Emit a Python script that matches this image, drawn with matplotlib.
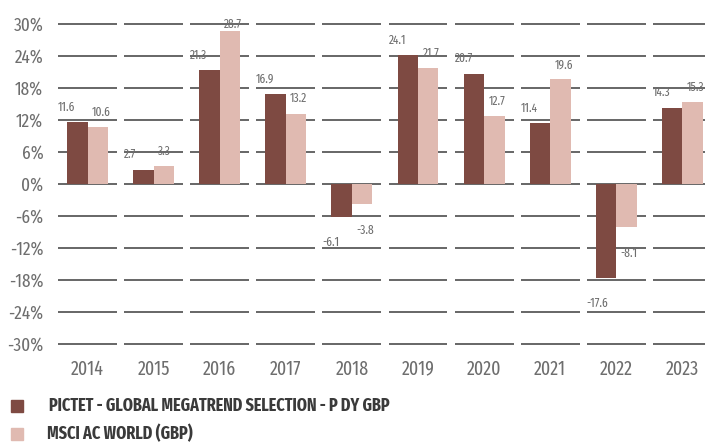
import matplotlib
matplotlib.use("Agg")
import matplotlib.pyplot as plt
from matplotlib.patches import Rectangle

years = ["2014", "2015", "2016", "2017", "2018", "2019", "2020", "2021", "2022", "2023"]
pictet = [11.6, 2.7, 21.3, 16.9, -6.1, 24.1, 20.7, 11.4, -17.6, 14.3]
msci = [10.6, 3.3, 28.7, 13.2, -3.8, 21.7, 12.7, 19.6, -8.1, 15.3]
yticks = [-30, -24, -18, -12, -6, 0, 6, 12, 18, 24, 30]
series_names = ["PICTET - GLOBAL MEGATREND SELECTION - P DY GBP", "MSCI AC WORLD (GBP)"]

c_pictet = "#7e4a42"
c_msci = "#e0bab1"
grid_c = "#5a5a5a"
txt_c = "#6e6e6e"

plt.rcParams['font.family'] = ['Fira Sans Extra Condensed', 'DejaVu Sans']

W, H = 705, 446
fig = plt.figure(figsize=(W/100, H/100), dpi=100)
ax_left = 54.45 / W
ax_w = 661.0 / W
ax_bottom = (H - 349.3) / H
ax_h = (349.3 - 18.67) / H
ax = fig.add_axes([ax_left, ax_bottom, ax_w, ax_h])
ax.set_xlim(-0.5, 9.5)
ax.set_ylim(-31, 31)
for s in ax.spines.values():
    s.set_visible(False)

# broken gridlines per category
for i in range(len(years)):
    for y in yticks:
        ax.plot([i - 0.446, i + 0.446], [y, y], color=grid_c, lw=1.3, zorder=1,
                solid_capstyle='butt', clip_on=False)

bw = 0.31
xs = list(range(len(years)))
ax.bar([x - bw/2 for x in xs], pictet, width=bw, color=c_pictet, zorder=2)
ax.bar([x + bw/2 for x in xs], msci, width=bw, color=c_msci, zorder=2)

px_x = 1 / 66.1
px_y = 62 / 330.63
for i in xs:
    for val, left, off in ((pictet[i], i - bw, -9), (msci[i], i, 4.5)):
        if val >= 0:
            ly = min(val + 15 * px_y, 30)
        else:
            ly = val - 26 * px_y
        ax.text(left + off * px_x, ly, f"{val:.1f}", ha='left', va='center',
                fontsize=9, color=txt_c, zorder=3)

ax.set_yticks(yticks)
ax.set_yticklabels([f"{v}%" for v in yticks])
ax.set_xticks(xs)
ax.set_xticklabels(years)
ax.tick_params(axis='both', length=0, colors=txt_c)
ax.tick_params(axis='y', pad=8, labelsize=13.5)
ax.tick_params(axis='x', pad=7, labelsize=14)

# legend
leg_items = [(series_names[0], c_pictet, 405.5), (series_names[1], c_msci, 434)]
for name, col, yc in leg_items:
    fig.patches.append(Rectangle((11 / W, (H - yc - 6) / H), 12 / W, 12 / H,
                                 transform=fig.transFigure, color=col))
x0 = {series_names[0]: 49, series_names[1]: 47}
for name, col, yc in leg_items:
    fig.text(x0[name] / W, (H - yc) / H, name, ha='left', va='center',
             fontsize=12.6, fontweight='bold', color='#3a3a3a')

fig.savefig("out.png", dpi=100)
